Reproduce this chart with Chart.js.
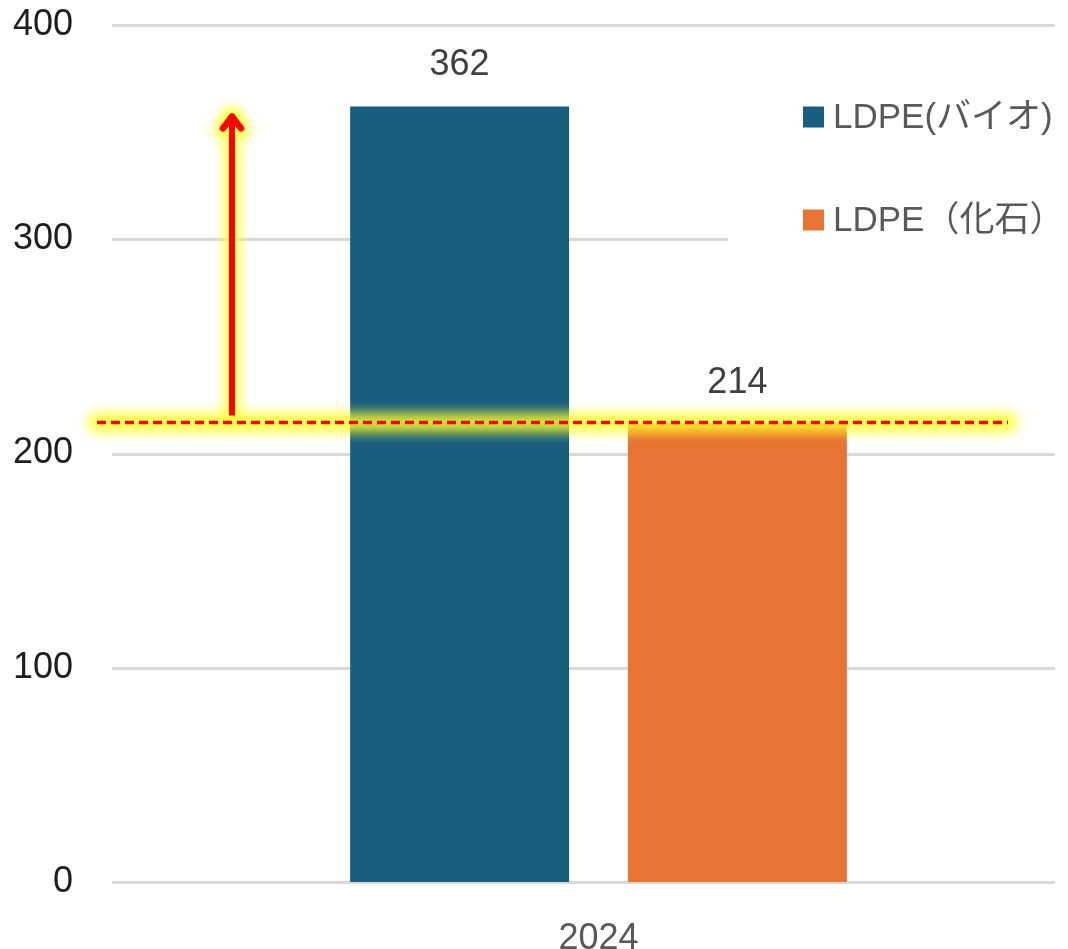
<!DOCTYPE html>
<html>
<head>
<meta charset="utf-8">
<script src="https://cdn.jsdelivr.net/npm/chart.js@4"></script>
<style>
  html, body { margin: 0; padding: 0; background: #fff; overflow: hidden; }
  #wrap { width: 1100px; height: 949px; position: relative; }
</style>
</head>
<body>
<div id="wrap"><canvas id="chart"></canvas></div>
<script>
const categories = ["2024"];
const seriesLabels = ["LDPE(バイオ)", "LDPE（化石）"];
const bioValues = [362];
const fossilValues = [214];
const seriesColors = ["rgb(24, 94, 127)", "rgb(232, 116, 52)"];

const FONT = '"Liberation Sans", "Noto Sans CJK JP", Arial, sans-serif';

// light gray gridlines, legend, value labels and the highlighted marker
const overlay = {
  id: "overlay",
  beforeDatasetsDraw(chart) {
    const { ctx, chartArea: a, scales: { y } } = chart;
    ctx.save();
    ctx.strokeStyle = "#d9d9d9";
    ctx.lineWidth = 3;
    y.ticks.forEach(t => {
      const py = Math.round(y.getPixelForValue(t.value)) + 0.5;
      ctx.beginPath();
      ctx.moveTo(a.left, py);
      ctx.lineTo(a.right - 30, py);
      ctx.stroke();
    });
    // legend box covers the gridline behind it
    ctx.fillStyle = "#fff";
    ctx.fillRect(a.left + 616, a.top + 20, 400, 390);
    ctx.restore();
  },
  afterDatasetsDraw(chart) {
    const { ctx, chartArea: a, scales: { y } } = chart;
    ctx.save();

    // value labels
    ctx.font = "36px " + FONT;
    ctx.fillStyle = "#404040";
    ctx.textAlign = "center";
    ctx.textBaseline = "alphabetic";
    chart.data.datasets.forEach((ds, i) => {
      chart.getDatasetMeta(i).data.forEach((bar, j) => {
        ctx.fillText(String(ds.data[j]), bar.x, bar.y - 31);
      });
    });

    // legend
    ctx.font = "35px " + FONT;
    ctx.textAlign = "left";
    ctx.textBaseline = "middle";
    chart.data.datasets.forEach((ds, i) => {
      const cy = a.top + 92 + i * 103;
      ctx.fillStyle = ds.backgroundColor;
      ctx.fillRect(a.left + 691, cy - 10.5, 21, 21);
      ctx.fillStyle = "#595959";
      ctx.fillText(ds.label, a.left + 721, cy + 1);
    });

    // marker: dashed line at the fossil value, arrow up to the bio value
    const lineY = y.getPixelForValue(fossilValues[0]) - 1;
    const x1 = a.left - 15, x2 = a.right - 77;
    const ax = a.left + 120;
    const tipY = y.getPixelForValue(bioValues[0]) + 7;
    const baseY = lineY - 7;

    ctx.save();
    ctx.filter = "blur(6px)";
    ctx.strokeStyle = "rgba(255, 255, 40, 0.85)";
    ctx.lineCap = "round";
    ctx.lineJoin = "round";
    ctx.lineWidth = 20;
    ctx.beginPath();
    ctx.moveTo(x1, lineY);
    ctx.lineTo(x2, lineY);
    ctx.stroke();
    ctx.lineWidth = 16;
    ctx.beginPath();
    ctx.moveTo(ax, baseY);
    ctx.lineTo(ax, tipY + 4);
    ctx.stroke();
    ctx.beginPath();
    ctx.moveTo(ax - 10, tipY + 17);
    ctx.lineTo(ax, tipY + 3);
    ctx.lineTo(ax + 10, tipY + 17);
    ctx.stroke();
    ctx.restore();

    ctx.strokeStyle = "#ff0000";
    ctx.lineWidth = 3.5;
    ctx.setLineDash([9, 5]);
    ctx.beginPath();
    ctx.moveTo(x1, lineY);
    ctx.lineTo(x2, lineY);
    ctx.stroke();

    ctx.setLineDash([]);
    ctx.lineWidth = 6;
    ctx.lineCap = "butt";
    ctx.beginPath();
    ctx.moveTo(ax, baseY);
    ctx.lineTo(ax, tipY + 4);
    ctx.stroke();
    ctx.lineCap = "round";
    ctx.lineJoin = "round";
    ctx.lineWidth = 6.5;
    ctx.beginPath();
    ctx.moveTo(ax - 9, tipY + 15);
    ctx.lineTo(ax, tipY + 3);
    ctx.lineTo(ax + 9, tipY + 15);
    ctx.stroke();

    ctx.restore();
  }
};

const data = {
  labels: categories,
  datasets: [
    {
      label: seriesLabels[0],
      backgroundColor: seriesColors[0],
      data: bioValues,
    },
    {
      label: seriesLabels[1],
      backgroundColor: seriesColors[1],
      data: fossilValues,
    },
  ],
};

const config = {
  type: "bar",
  data: data,
  options: {
    responsive: true,
    maintainAspectRatio: false,
    animation: false,
    categoryPercentage: 0.571,
    barPercentage: 0.788,
    layout: { padding: { top: 25, left: 0, right: 15, bottom: 0 } },
    plugins: {
      legend: { display: false },
      tooltip: { enabled: false },
    },
    scales: {
      x: {
        grid: { display: false },
        border: { display: false },
        ticks: { padding: 27, color: "#595959", font: { size: 36, family: FONT } },
        afterFit(scale) {
          scale.height = 67;
          scale.paddingLeft = 0;
          scale.paddingRight = 0;
        },
      },
      y: {
        min: 0,
        max: 400,
        grid: { display: false },
        border: { display: false },
        ticks: { stepSize: 100, padding: 31, color: "#1f1f1f", font: { size: 36, family: FONT } },
        afterFit(scale) {
          scale.width = 112;
          scale.paddingTop = 0;
          scale.paddingBottom = 0;
        },
      },
    },
  },
  plugins: [overlay],
};

const myChart = new Chart(document.getElementById("chart"), config);
</script>
</body>
</html>
